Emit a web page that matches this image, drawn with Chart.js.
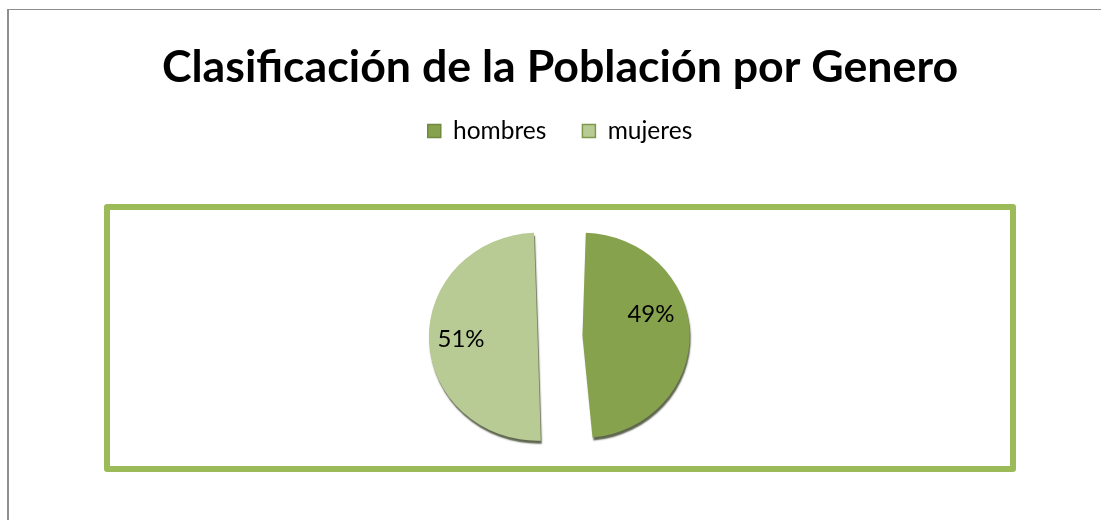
<!DOCTYPE html>
<html>
<head>
<meta charset="utf-8">
<script src="https://cdn.jsdelivr.net/npm/chart.js@4.4.1/dist/chart.umd.min.js"></script>
<style>
  html, body { margin: 0; padding: 0; background: #ffffff; }
  #wrap { position: absolute; left: 0; top: 0; width: 1101px; height: 520px; overflow: hidden; }
  #frame { position: absolute; left: 7px; top: 9px; width: 1200px; height: 600px;
           border-left: 2px solid #8e8e8e; border-top: 1px solid #8e8e8e; }
  #c { position: absolute; left: 0; top: 0; }
</style>
</head>
<body>
<div id="wrap">
  <div id="frame"></div>
  <canvas id="c" width="1101" height="520"></canvas>
</div>
<script>
const chartTitle = 'Clasificación de la Población por Genero';
const categories = ['hombres', 'mujeres'];
const values = [49, 51];
const pctLabels = ['49%', '51%'];

const fillColors = ['#87A24D', '#B8CB94'];
const borderColors = ['#71893F', '#7E9A48'];
const FONT = 'Lato, "Open Sans", sans-serif';
const EXPLODE = 86;               // Chart.js adds offset/4 to the drawn radius
const PIE_RADIUS = 104 - EXPLODE / 4;
const TILT_X = 1.045;             // slight 3D ellipse: wider than tall

const plotFrame = {
  id: 'plotFrame',
  beforeDatasetsDraw(chart) {
    const ctx = chart.ctx;
    const cx = (chart.chartArea.left + chart.chartArea.right) / 2;
    const cy = (chart.chartArea.top + chart.chartArea.bottom) / 2 + 2;
    const hw = 453, hh = 131;
    ctx.save();
    ctx.strokeStyle = '#9BBB59';
    ctx.lineWidth = 6;
    ctx.lineJoin = 'round';
    ctx.strokeRect(cx - hw, cy - hh, hw * 2, hh * 2);
    ctx.restore();
    ctx.save();
    ctx.translate(cx, 0);
    ctx.scale(TILT_X, 1);
    ctx.translate(-cx, 0);
    ctx.shadowColor = 'rgba(40,50,20,0.75)';
    ctx.shadowOffsetX = 1;
    ctx.shadowOffsetY = 3;
    ctx.shadowBlur = 1.5;
  },
  afterDatasetsDraw(chart) {
    chart.ctx.restore();
    const ctx = chart.ctx;
    const meta = chart.getDatasetMeta(0);
    const placement = [{frac: 0.90, shift: -11.8}, {frac: 0.952, shift: 0}];
    ctx.save();
    ctx.fillStyle = '#000000';
    ctx.font = '24px ' + FONT;
    ctx.textAlign = 'center';
    ctx.textBaseline = 'middle';
    meta.data.forEach((arc, i) => {
      const p = arc.getProps(['x', 'y', 'startAngle', 'endAngle', 'outerRadius'], true);
      const mid = (p.startAngle + p.endAngle) / 2;
      const rDrawn = p.outerRadius + EXPLODE / 4;
      const a = mid + placement[i].shift * Math.PI / 180;
      const r = rDrawn * placement[i].frac;
      ctx.fillText(pctLabels[i], p.x + Math.cos(a) * r, p.y + Math.sin(a) * r);
    });
    ctx.restore();
  }
};

new Chart(document.getElementById('c'), {
  type: 'pie',
  data: {
    labels: categories,
    datasets: [{
      data: values,
      backgroundColor: fillColors,
      borderColor: fillColors,
      borderWidth: 0,
      offset: EXPLODE
    }]
  },
  options: {
    responsive: false,
    animation: false,
    devicePixelRatio: 1,
    radius: PIE_RADIUS,
    layout: { padding: { left: 19, right: 0, top: 0, bottom: 1 } },
    plugins: {
      title: {
        display: true,
        text: chartTitle,
        color: '#000000',
        font: { family: FONT, size: 44.7, weight: 'bold' },
        padding: { top: 41, bottom: -12 }
      },
      legend: {
        display: true,
        position: 'top',
        labels: {
          color: '#000000',
          font: { family: FONT, size: 24.5 },
          boxWidth: 13,
          boxHeight: 13,
          padding: 36,
          generateLabels(chart) {
            return categories.map((c, i) => ({
              text: c,
              fillStyle: fillColors[i],
              strokeStyle: borderColors[i],
              lineWidth: 1.5,
              index: i,
              hidden: false
            }));
          }
        }
      },
      tooltip: { enabled: false }
    }
  },
  plugins: [plotFrame]
});
</script>
</body>
</html>
